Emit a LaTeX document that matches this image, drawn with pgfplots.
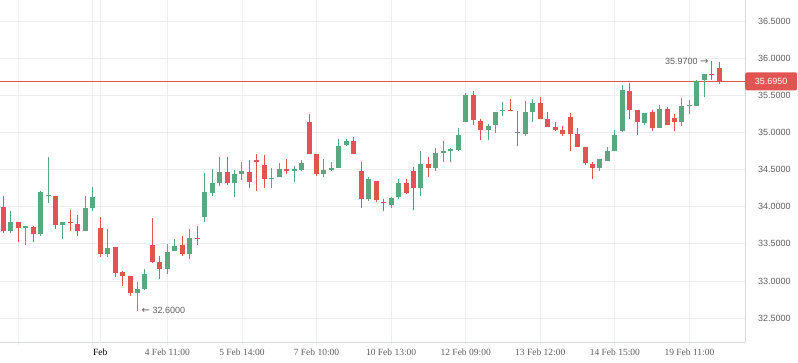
\documentclass[border=0pt]{standalone}
\usepackage{fontspec}
\setmainfont{Liberation Sans}
\newfontfamily\xfont{Liberation Serif}
\newfontfamily\symfont{DejaVu Sans}
\usepackage{pgfplots}
\usepackage{pgfplotstable}
\pgfplotsset{compat=1.18}
\definecolor{cgreen}{RGB}{90,167,128}
\definecolor{cred}{RGB}{224,84,82}
\definecolor{cgrey}{RGB}{128,128,128}
\definecolor{gridc}{RGB}{236,238,241}
\definecolor{febc}{RGB}{220,224,229}
\definecolor{axisc}{RGB}{214,217,222}
\definecolor{labc}{RGB}{95,95,95}

\pgfplotstableread{
x o h l c
1 33.68 33.95 33.65 33.80
3 33.72 33.74 33.49 33.735
5 33.63 34.22 33.61 34.20
6 34.15 34.68 34.05 34.165
8 33.76 33.80 33.57 33.80
11 33.67 34.15 33.67 33.99
12 33.99 34.27 33.94 34.14
14 33.37 33.70 33.32 33.45
18 32.83 32.99 32.60 32.89
19 32.89 33.16 32.88 33.10
22 33.16 33.50 33.10 33.39
23 33.40 33.56 33.40 33.47
25 33.36 33.70 33.29 33.58
27 33.86 34.46 33.80 34.20
28 34.19 34.51 34.15 34.32
29 34.32 34.67 34.28 34.47
31 34.32 34.50 34.14 34.45
32 34.45 34.61 34.36 34.49
36 34.38 34.53 34.26 34.395
37 34.40 34.59 34.40 34.51
39 34.49 34.55 34.33 34.51
40 34.50 34.63 34.49 34.59
43 34.44 34.65 34.40 34.50
44 34.50 34.61 34.49 34.53
45 34.53 34.91 34.52 34.82
46 34.83 34.91 34.82 34.89
49 34.10 34.41 34.08 34.37
52 34.03 34.13 33.99 34.12
53 34.13 34.38 34.10 34.32
56 34.26 34.76 34.15 34.58
58 34.52 34.80 34.49 34.73
59 34.73 34.89 34.61 34.76
60 34.76 34.80 34.61 34.78
61 34.77 35.07 34.75 34.97
62 35.15 35.54 35.15 35.51
65 35.04 35.12 34.90 35.09
66 35.10 35.28 35.00 35.28
67 35.29 35.42 35.23 35.31
70 34.99 35.43 34.96 35.28
71 35.28 35.46 35.15 35.40
80 34.53 34.64 34.48 34.64
81 34.62 34.81 34.62 34.76
82 34.76 35.04 34.76 34.97
83 35.02 35.65 35.01 35.58
86 35.13 35.27 35.10 35.27
88 35.06 35.38 35.06 35.32
91 35.14 35.47 35.09 35.36
92 35.36 35.45 35.26 35.375
93 35.36 35.72 35.36 35.70
94 35.71 35.80 35.49 35.80
}\greentab

\pgfplotstableread{
x o h l c
0 34.00 34.15 33.65 33.68
2 33.80 33.80 33.53 33.72
4 33.73 33.74 33.53 33.63
7 34.15 34.15 33.70 33.76
9 33.80 33.96 33.67 33.78
10 33.77 33.89 33.61 33.67
13 33.72 33.86 33.32 33.37
15 33.46 33.46 33.05 33.11
16 33.12 33.14 32.93 33.06
17 33.06 33.06 32.79 32.83
20 33.49 33.85 33.24 33.25
21 33.25 33.34 33.03 33.16
24 33.49 33.61 33.33 33.36
26 33.58 33.74 33.49 33.56
30 34.47 34.68 34.30 34.32
33 34.47 34.63 34.25 34.34
34 34.63 34.72 34.22 34.60
35 34.57 34.70 34.26 34.38
38 34.51 34.65 34.45 34.49
41 35.14 35.26 34.71 34.72
42 34.72 34.72 34.42 34.44
47 34.89 34.95 34.71 34.71
48 34.49 34.61 33.99 34.10
50 34.35 34.35 34.06 34.09
51 34.07 34.10 33.95 34.05
54 34.32 34.37 34.18 34.19
55 34.49 34.54 33.96 34.26
57 34.58 34.68 34.40 34.52
63 35.51 35.57 35.11 35.17
64 35.16 35.19 34.90 35.04
68 35.31 35.46 35.29 35.29
72 35.40 35.49 35.18 35.18
73 35.19 35.28 35.08 35.08
74 35.08 35.14 35.02 35.04
75 35.04 35.09 34.96 34.99
76 35.22 35.27 34.76 34.99
77 34.99 35.07 34.81 34.81
78 34.81 34.81 34.56 34.59
79 34.58 34.61 34.37 34.53
84 35.57 35.67 35.18 35.31
85 35.31 35.31 34.97 35.14
87 35.28 35.31 35.03 35.07
89 35.32 35.35 35.10 35.10
90 35.20 35.26 35.02 35.14
95 35.80 35.97 35.71 35.785
96 35.87 35.96 35.66 35.695
}\redtab

\pgfplotstableread{
x y
-0.44 35.695
99.45 35.695
}\pricetab

\begin{document}
\begin{tikzpicture}
\useasboundingbox (0,0) rectangle (798pt,363pt);
\begin{axis}[
  at={(0pt,21pt)}, anchor=south west,
  width=745pt, height=342pt, scale only axis,
  xmin=-0.44, xmax=99.45, ymin=32.175, ymax=36.794,
  clip=false,
  axis x line*=bottom, axis y line*=right,
  axis line style={-, draw=axisc, line width=0.8pt},
  xtick={2,12,22,32,42,52,62,72,82,92},
  xticklabels={,,4 Feb 11:00,5 Feb 14:00,7 Feb 10:00,10 Feb 13:00,12 Feb 09:00,13 Feb 12:00,14 Feb 15:00,19 Feb 11:00},
  extra x ticks={13},
  extra x tick labels={Feb},
  extra x tick style={grid style={draw=febc, line width=1.6pt}, xticklabel style={text=black}},
  ytick={32.5,33,33.5,34,34.5,35,35.5,36,36.5},
  yticklabels={32.5000,33.0000,33.5000,34.0000,34.5000,35.0000,35.5000,36.0000,36.5000},
  grid=major,
  major grid style={draw=gridc, line width=0.8pt},
  xtick style={draw=gridc, line width=0.8pt},
  ytick style={draw=none},
  major tick length=3.5pt, tick align=outside,
  xticklabel style={font=\xfont\fontsize{9.5}{10}\selectfont, text=labc},
  yticklabel style={font=\fontsize{9}{10}\selectfont, text=labc, xshift=6pt},
]
% last price line (behind candles)
\addplot[draw=cred, line width=1pt, mark=none, forget plot] table[x=x, y=y] {\pricetab};
% wicks
\addplot[draw=none, mark=none, forget plot,
  error bars/.cd, y dir=plus, y explicit, error mark=none,
  error bar style={draw=cgreen, line width=1pt}]
  table[x=x, y=l, y error expr=\thisrow{h}-\thisrow{l}] {\greentab};
\addplot[draw=none, mark=none, forget plot,
  error bars/.cd, y dir=plus, y explicit, error mark=none,
  error bar style={draw=cred, line width=1pt}]
  table[x=x, y=l, y error expr=\thisrow{h}-\thisrow{l}] {\redtab};
\addplot[draw=none, mark=none, forget plot,
  error bars/.cd, y dir=plus, y explicit, error mark=none,
  error bar style={draw=cgrey, line width=1pt}]
  coordinates {(69,34.82) +- (0,0.47)};
% bodies
\addplot[draw=none, mark=none, forget plot,
  error bars/.cd, y dir=plus, y explicit, error mark=none,
  error bar style={draw=cgreen, line width=5pt}]
  table[x=x, y=o, y error expr=\thisrow{c}-\thisrow{o}] {\greentab};
\addplot[draw=none, mark=none, forget plot,
  error bars/.cd, y dir=plus, y explicit, error mark=none,
  error bar style={draw=cred, line width=5pt}]
  table[x=x, y=c, y error expr=\thisrow{o}-\thisrow{c}] {\redtab};
\addplot[draw=none, mark=none, forget plot,
  error bars/.cd, y dir=plus, y explicit, error mark=none,
  error bar style={draw=cgrey, line width=5pt}]
  coordinates {(69,34.995) +- (0,0.014)};
\node[anchor=west, fill=cred, text=white, rounded corners=2pt, minimum width=52pt, minimum height=18pt, inner sep=0pt, font=\fontsize{9}{10}\selectfont] at (axis cs:99.45,35.695) {35.6950};
% annotations
\node[anchor=west, inner sep=0pt, xshift=4pt, text=labc, font=\fontsize{9}{10}\selectfont] at (axis cs:18,32.60) {{\symfont\fontsize{10}{10}\selectfont ←}\ 32.6000};
\node[anchor=east, inner sep=0pt, xshift=-3pt, text=labc, font=\fontsize{9}{10}\selectfont] at (axis cs:95,35.97) {35.9700\ {\symfont\fontsize{10}{10}\selectfont →}};
\end{axis}
\end{tikzpicture}
\end{document}
